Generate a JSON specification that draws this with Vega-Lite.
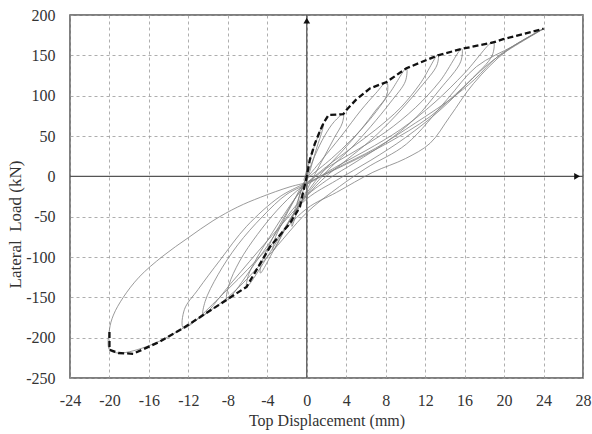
{
  "$schema": "https://vega.github.io/schema/vega-lite/v6.json",
  "width": 513,
  "height": 363,
  "autosize": {"type": "none"},
  "padding": {"left": 70, "top": 15, "right": 9, "bottom": 56},
  "background": "white",
  "config": {
    "view": {"stroke": "#555", "strokeWidth": 1.5},
    "font": "Liberation Serif",
    "axis": {
      "labelFont": "Liberation Serif", "titleFont": "Liberation Serif",
      "labelFontSize": 16, "titleFontSize": 16, "titleFontWeight": "normal",
      "labelColor": "#333", "titleColor": "#333",
      "grid": true, "gridColor": "#999", "gridDash": [3, 3], "gridWidth": 0.8,
      "ticks": false, "domain": false, "labelOverlap": false,
      "labelExpr": "toString(datum.value)"
    }
  },
  "datasets": {
    "loops": [
      {"c": "A", "i": 1, "x": -0.3, "y": -5}, {"c": "A", "i": 2, "x": 0.3, "y": 20}, {"c": "A", "i": 3, "x": 1.0, "y": 45}, {"c": "A", "i": 4, "x": 1.7, "y": 66}, {"c": "A", "i": 5, "x": 1.6, "y": 58}, {"c": "A", "i": 6, "x": 1.0, "y": 35}, {"c": "A", "i": 7, "x": 0.4, "y": 10}, {"c": "A", "i": 8, "x": 0, "y": -5}, {"c": "A", "i": 9, "x": -0.5, "y": -22}, {"c": "A", "i": 10, "x": -1.0, "y": -40}, {"c": "A", "i": 11, "x": -0.9, "y": -32}, {"c": "A", "i": 12, "x": -0.5, "y": -15}, {"c": "A", "i": 13, "x": 0, "y": 0},

      {"c": "B", "i": 1, "x": 0, "y": 0}, {"c": "B", "i": 2, "x": 0.8, "y": 25}, {"c": "B", "i": 3, "x": 1.8, "y": 50}, {"c": "B", "i": 4, "x": 2.8, "y": 68}, {"c": "B", "i": 5, "x": 3.7, "y": 77}, {"c": "B", "i": 6, "x": 3.6, "y": 66}, {"c": "B", "i": 7, "x": 2.8, "y": 48}, {"c": "B", "i": 8, "x": 1.8, "y": 25}, {"c": "B", "i": 9, "x": 0.8, "y": 2}, {"c": "B", "i": 10, "x": -0.3, "y": -25}, {"c": "B", "i": 11, "x": -1.0, "y": -45}, {"c": "B", "i": 12, "x": -1.5, "y": -62}, {"c": "B", "i": 13, "x": -1.4, "y": -50}, {"c": "B", "i": 14, "x": -0.9, "y": -30}, {"c": "B", "i": 15, "x": -0.4, "y": -12}, {"c": "B", "i": 16, "x": 0, "y": -2},

      {"c": "C", "i": 1, "x": 0, "y": -2}, {"c": "C", "i": 2, "x": 1.5, "y": 20}, {"c": "C", "i": 3, "x": 3.5, "y": 50}, {"c": "C", "i": 4, "x": 5.5, "y": 82}, {"c": "C", "i": 5, "x": 7, "y": 103}, {"c": "C", "i": 6, "x": 8.1, "y": 117}, {"c": "C", "i": 7, "x": 8.1, "y": 100}, {"c": "C", "i": 8, "x": 7, "y": 82}, {"c": "C", "i": 9, "x": 5.5, "y": 58}, {"c": "C", "i": 10, "x": 3.5, "y": 30}, {"c": "C", "i": 11, "x": 1.8, "y": 8}, {"c": "C", "i": 12, "x": 0.5, "y": -12}, {"c": "C", "i": 13, "x": -1, "y": -40}, {"c": "C", "i": 14, "x": -2.3, "y": -68}, {"c": "C", "i": 15, "x": -3.4, "y": -92}, {"c": "C", "i": 16, "x": -3.3, "y": -80}, {"c": "C", "i": 17, "x": -2.5, "y": -58}, {"c": "C", "i": 18, "x": -1.3, "y": -30}, {"c": "C", "i": 19, "x": -0.3, "y": -8}, {"c": "C", "i": 20, "x": 0.5, "y": 2},

      {"c": "D", "i": 1, "x": 0.5, "y": 2}, {"c": "D", "i": 2, "x": 2.5, "y": 22}, {"c": "D", "i": 3, "x": 4.5, "y": 45}, {"c": "D", "i": 4, "x": 6.5, "y": 72}, {"c": "D", "i": 5, "x": 8.5, "y": 105}, {"c": "D", "i": 6, "x": 10.1, "y": 134}, {"c": "D", "i": 7, "x": 10.0, "y": 118}, {"c": "D", "i": 8, "x": 8.5, "y": 92}, {"c": "D", "i": 9, "x": 6.5, "y": 62}, {"c": "D", "i": 10, "x": 4.5, "y": 35}, {"c": "D", "i": 11, "x": 2.5, "y": 12}, {"c": "D", "i": 12, "x": 0.5, "y": -15}, {"c": "D", "i": 13, "x": -1.5, "y": -50}, {"c": "D", "i": 14, "x": -3.2, "y": -88}, {"c": "D", "i": 15, "x": -4.7, "y": -120}, {"c": "D", "i": 16, "x": -4.6, "y": -108}, {"c": "D", "i": 17, "x": -3.8, "y": -85}, {"c": "D", "i": 18, "x": -2.5, "y": -55}, {"c": "D", "i": 19, "x": -1.2, "y": -28}, {"c": "D", "i": 20, "x": 0, "y": -8},

      {"c": "E", "i": 1, "x": 0, "y": -8}, {"c": "E", "i": 2, "x": 2, "y": 12}, {"c": "E", "i": 3, "x": 4.5, "y": 35}, {"c": "E", "i": 4, "x": 7, "y": 58}, {"c": "E", "i": 5, "x": 9.5, "y": 85}, {"c": "E", "i": 6, "x": 11.5, "y": 115}, {"c": "E", "i": 7, "x": 13.3, "y": 151}, {"c": "E", "i": 8, "x": 13.2, "y": 138}, {"c": "E", "i": 9, "x": 11.5, "y": 110}, {"c": "E", "i": 10, "x": 9, "y": 75}, {"c": "E", "i": 11, "x": 6.5, "y": 45}, {"c": "E", "i": 12, "x": 4, "y": 20}, {"c": "E", "i": 13, "x": 1.5, "y": -5}, {"c": "E", "i": 14, "x": -1, "y": -40}, {"c": "E", "i": 15, "x": -3.5, "y": -90}, {"c": "E", "i": 16, "x": -6.1, "y": -137}, {"c": "E", "i": 17, "x": -5.9, "y": -122}, {"c": "E", "i": 18, "x": -5, "y": -100}, {"c": "E", "i": 19, "x": -3.5, "y": -70}, {"c": "E", "i": 20, "x": -1.8, "y": -38}, {"c": "E", "i": 21, "x": -0.3, "y": -12},

      {"c": "F", "i": 1, "x": -0.3, "y": -12}, {"c": "F", "i": 2, "x": 2, "y": 10}, {"c": "F", "i": 3, "x": 5, "y": 32}, {"c": "F", "i": 4, "x": 8, "y": 55}, {"c": "F", "i": 5, "x": 11, "y": 85}, {"c": "F", "i": 6, "x": 13.5, "y": 118}, {"c": "F", "i": 7, "x": 15.7, "y": 158}, {"c": "F", "i": 8, "x": 15.6, "y": 142}, {"c": "F", "i": 9, "x": 13.5, "y": 108}, {"c": "F", "i": 10, "x": 11, "y": 72}, {"c": "F", "i": 11, "x": 8, "y": 42}, {"c": "F", "i": 12, "x": 5, "y": 18}, {"c": "F", "i": 13, "x": 2, "y": -5}, {"c": "F", "i": 14, "x": -1, "y": -35}, {"c": "F", "i": 15, "x": -4.5, "y": -95}, {"c": "F", "i": 16, "x": -8.1, "y": -153}, {"c": "F", "i": 17, "x": -7.9, "y": -135}, {"c": "F", "i": 18, "x": -6.8, "y": -105}, {"c": "F", "i": 19, "x": -5, "y": -72}, {"c": "F", "i": 20, "x": -3, "y": -42}, {"c": "F", "i": 21, "x": -1, "y": -18}, {"c": "F", "i": 22, "x": 0, "y": -10},

      {"c": "G", "i": 1, "x": 0, "y": -10}, {"c": "G", "i": 2, "x": 3, "y": 12}, {"c": "G", "i": 3, "x": 6, "y": 32}, {"c": "G", "i": 4, "x": 9.5, "y": 58}, {"c": "G", "i": 5, "x": 13, "y": 92}, {"c": "G", "i": 6, "x": 16, "y": 128}, {"c": "G", "i": 7, "x": 18.9, "y": 167}, {"c": "G", "i": 8, "x": 18.8, "y": 150}, {"c": "G", "i": 9, "x": 16.5, "y": 118}, {"c": "G", "i": 10, "x": 13.5, "y": 82}, {"c": "G", "i": 11, "x": 10, "y": 48}, {"c": "G", "i": 12, "x": 6.5, "y": 20}, {"c": "G", "i": 13, "x": 3, "y": -5}, {"c": "G", "i": 14, "x": 0, "y": -28}, {"c": "G", "i": 15, "x": -4, "y": -80}, {"c": "G", "i": 16, "x": -7.5, "y": -130}, {"c": "G", "i": 17, "x": -10.5, "y": -172}, {"c": "G", "i": 18, "x": -10.3, "y": -155}, {"c": "G", "i": 19, "x": -9, "y": -122}, {"c": "G", "i": 20, "x": -7, "y": -85}, {"c": "G", "i": 21, "x": -4.5, "y": -50}, {"c": "G", "i": 22, "x": -2, "y": -22}, {"c": "G", "i": 23, "x": 0, "y": -10},

      {"c": "H", "i": 1, "x": 0, "y": -10}, {"c": "H", "i": 2, "x": 3, "y": 10}, {"c": "H", "i": 3, "x": 7, "y": 35}, {"c": "H", "i": 4, "x": 11, "y": 66}, {"c": "H", "i": 5, "x": 14.5, "y": 95}, {"c": "H", "i": 6, "x": 17, "y": 120}, {"c": "H", "i": 7, "x": 19.5, "y": 150}, {"c": "H", "i": 8, "x": 24, "y": 183}, {"c": "H", "i": 9, "x": 20.3, "y": 156}, {"c": "H", "i": 10, "x": 16.9, "y": 115}, {"c": "H", "i": 11, "x": 14.5, "y": 74}, {"c": "H", "i": 12, "x": 12.5, "y": 41}, {"c": "H", "i": 13, "x": 10, "y": 22}, {"c": "H", "i": 14, "x": 6.7, "y": 5}, {"c": "H", "i": 15, "x": 3, "y": -20}, {"c": "H", "i": 16, "x": 0, "y": -40}, {"c": "H", "i": 17, "x": -4, "y": -90}, {"c": "H", "i": 18, "x": -8, "y": -140}, {"c": "H", "i": 19, "x": -12.5, "y": -188}, {"c": "H", "i": 20, "x": -12.4, "y": -165}, {"c": "H", "i": 21, "x": -11, "y": -140}, {"c": "H", "i": 22, "x": -8.8, "y": -104}, {"c": "H", "i": 23, "x": -6.1, "y": -62}, {"c": "H", "i": 24, "x": -2.7, "y": -25}, {"c": "H", "i": 25, "x": 0, "y": -8},

      {"c": "I", "i": 1, "x": 0, "y": -8}, {"c": "I", "i": 2, "x": 4, "y": 15}, {"c": "I", "i": 3, "x": 8, "y": 40}, {"c": "I", "i": 4, "x": 12.5, "y": 74}, {"c": "I", "i": 5, "x": 15.9, "y": 111}, {"c": "I", "i": 6, "x": 18.9, "y": 144}, {"c": "I", "i": 7, "x": 24, "y": 183}, {"c": "I", "i": 8, "x": 21, "y": 162}, {"c": "I", "i": 9, "x": 17.2, "y": 136}, {"c": "I", "i": 10, "x": 14.2, "y": 95}, {"c": "I", "i": 11, "x": 10.1, "y": 40}, {"c": "I", "i": 12, "x": 6, "y": 10}, {"c": "I", "i": 13, "x": 2.5, "y": -20}, {"c": "I", "i": 14, "x": 0, "y": -45}, {"c": "I", "i": 15, "x": -4, "y": -100}, {"c": "I", "i": 16, "x": -8, "y": -150}, {"c": "I", "i": 17, "x": -12.5, "y": -188}, {"c": "I", "i": 18, "x": -16, "y": -210}, {"c": "I", "i": 19, "x": -19, "y": -219}, {"c": "I", "i": 20, "x": -20, "y": -215}, {"c": "I", "i": 21, "x": -20, "y": -190}, {"c": "I", "i": 22, "x": -19.6, "y": -172}, {"c": "I", "i": 23, "x": -18.6, "y": -150}, {"c": "I", "i": 24, "x": -17, "y": -125}, {"c": "I", "i": 25, "x": -14.6, "y": -99}, {"c": "I", "i": 26, "x": -12, "y": -76}, {"c": "I", "i": 27, "x": -9.5, "y": -55}, {"c": "I", "i": 28, "x": -7, "y": -38}, {"c": "I", "i": 29, "x": -4.7, "y": -26}, {"c": "I", "i": 30, "x": -1.7, "y": -13}, {"c": "I", "i": 31, "x": 0, "y": -8}
    ],
    "env": [
      {"i": 1, "x": -20, "y": -193}, {"i": 2, "x": -20, "y": -215}, {"i": 3, "x": -19.1, "y": -219}, {"i": 4, "x": -17.6, "y": -220}, {"i": 5, "x": -14.9, "y": -205}, {"i": 6, "x": -12.5, "y": -188}, {"i": 7, "x": -10.5, "y": -172}, {"i": 8, "x": -8.1, "y": -153}, {"i": 9, "x": -6.1, "y": -137}, {"i": 10, "x": -5.1, "y": -116}, {"i": 11, "x": -3.7, "y": -87}, {"i": 12, "x": -1.7, "y": -58}, {"i": 13, "x": -0.7, "y": -38}, {"i": 14, "x": 0, "y": 0}, {"i": 15, "x": 0.3, "y": 20}, {"i": 16, "x": 0.8, "y": 40}, {"i": 17, "x": 1.3, "y": 55}, {"i": 18, "x": 1.7, "y": 66}, {"i": 19, "x": 2.2, "y": 76}, {"i": 20, "x": 3.7, "y": 77}, {"i": 21, "x": 4.0, "y": 82}, {"i": 22, "x": 5, "y": 95}, {"i": 23, "x": 6.4, "y": 109}, {"i": 24, "x": 8.1, "y": 117}, {"i": 25, "x": 10.1, "y": 134}, {"i": 26, "x": 13.3, "y": 150}, {"i": 27, "x": 15.7, "y": 158}, {"i": 28, "x": 18.9, "y": 166}, {"i": 29, "x": 19.9, "y": 170}, {"i": 30, "x": 24, "y": 183}
    ],
    "zero": [{"x": 0, "y": 0}],
    "arrows": [{"x": 0, "y": 193, "s": "triangle-up"}, {"x": 27.4, "y": 0, "s": "triangle-right"}]
  },
  "encoding": {
    "x": {"field": "x", "type": "quantitative", "scale": {"domain": [-24, 28], "nice": false, "zero": false},
          "axis": {"values": [-24, -20, -16, -12, -8, -4, 0, 4, 8, 12, 16, 20, 24, 28], "labelOverlap": false, "labelBound": false, "labelFlush": false, "title": "Top Displacement (mm)", "labelPadding": 14, "titlePadding": 4}},
    "y": {"field": "y", "type": "quantitative", "scale": {"domain": [-250, 200], "nice": false, "zero": false},
          "axis": {"values": [-250, -200, -150, -100, -50, 0, 50, 100, 150, 200], "labelOverlap": false, "labelFlush": false, "title": "Lateral\u00a0 Load (kN)", "titleFontSize": 17, "labelPadding": 15, "titlePadding": 1, "titleY": 209}}
  },
  "layer": [
    {
      "data": {"name": "zero"},
      "mark": {"type": "rule", "color": "#555", "strokeWidth": 1.3},
      "encoding": {"y": null}
    },
    {
      "data": {"name": "zero"},
      "mark": {"type": "rule", "color": "#555", "strokeWidth": 1.3},
      "encoding": {"x": null}
    },
    {
      "data": {"name": "loops"},
      "mark": {"type": "line", "color": "#808080", "strokeWidth": 0.8, "interpolate": "catmull-rom"},
      "encoding": {
        "detail": {"field": "c"},
        "order": {"field": "i", "type": "quantitative"}
      }
    },
    {
      "data": {"name": "env"},
      "mark": {"type": "line", "color": "#111", "strokeWidth": 2.3, "strokeDash": [6, 3]},
      "encoding": {
        "order": {"field": "i", "type": "quantitative"}
      }
    },
    {
      "data": {"name": "arrows"},
      "mark": {"type": "point", "filled": true, "color": "#111", "opacity": 1, "size": 45},
      "encoding": {
        "shape": {"field": "s", "type": "nominal", "scale": null}
      }
    }
  ]
}
